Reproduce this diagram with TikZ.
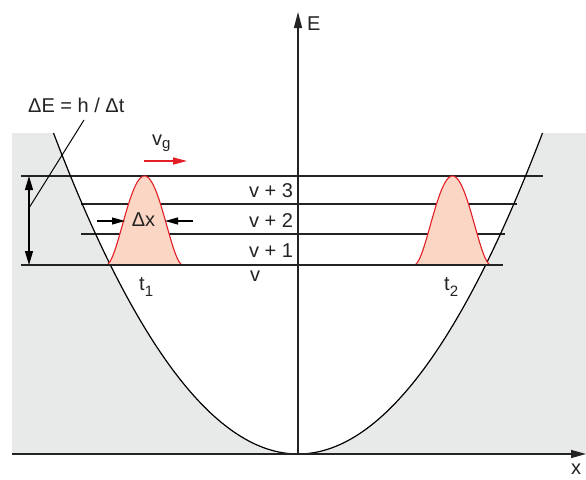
\documentclass[tikz,border=0pt]{standalone}
\usepackage{fontspec}
\setmainfont{Liberation Sans}
\usetikzlibrary{arrows.meta}
\definecolor{bggray}{RGB}{232,233,233}
\definecolor{lin}{RGB}{35,35,35}
\definecolor{pk}{RGB}{252,214,196}
\definecolor{pkred}{RGB}{226,30,38}
\newcommand\mysub[2]{\raisebox{-#1}{\fontsize{15}{15}\selectfont #2}}
\begin{document}
\begin{tikzpicture}[x=1pt,y=-1pt,
  lbl/.style={font=\fontsize{20}{24}\selectfont, inner sep=0pt, text=lin},
  level/.style={draw=lin, line width=1.3pt},
  axis/.style={draw=lin, line width=1.3pt},
  curve/.style={draw=black, line width=1.2pt},
  packet/.style={fill=pk, draw=pkred, line width=1.1pt},
  blk/.style={-{Triangle[length=13pt,width=7pt]}, draw=black, line width=1.1pt},
  dbl/.style={{Triangle[length=14pt,width=8pt]}-{Triangle[length=14pt,width=8pt]}, draw=black, line width=1.1pt},
  redarr/.style={-{Triangle[length=14pt,width=7pt]}, draw=pkred, fill=pkred, line width=1.4pt}]
\useasboundingbox (0,0) rectangle (586,479);
% gray walls outside the parabola
\fill[bggray] (12,133) rectangle (586,454);
\fill[white] (53.5,133) .. controls (216.5,561) and (379.5,561) .. (542.5,133) -- cycle;
% coordinates
\coordinate (xo) at (12,454);
\coordinate (xe) at (586,454);
\coordinate (eo) at (298,454);
\coordinate (ee) at (298,12);
\coordinate (l3a) at (21,176);  \coordinate (l3b) at (543,176);
\coordinate (l2a) at (81,204);  \coordinate (l2b) at (517,204);
\coordinate (l1a) at (81,234);  \coordinate (l1b) at (505,234);
\coordinate (l0a) at (21,265);  \coordinate (l0b) at (503,265);
% energy levels
\draw[level] (l3a) -- (l3b);
\draw[level] (l2a) -- (l2b);
\draw[level] (l1a) -- (l1b);
\draw[level] (l0a) -- (l0b);
% parabola
\draw[curve] (53.5,133) .. controls (216.5,561) and (379.5,561) .. (542.5,133);
% wave packets
\filldraw[packet] plot[domain=-38.5:38.5, samples=80] ({144.5+\x},{265-89*(1-(\x/38.5)*(\x/38.5))*(1-(\x/38.5)*(\x/38.5))});
\filldraw[packet] plot[domain=-38.5:38.5, samples=80] ({452.5+\x},{265-89*(1-(\x/38.5)*(\x/38.5))*(1-(\x/38.5)*(\x/38.5))});
\draw[level] (l0a) -- (l0b);
% axes
\draw[axis, -{Triangle[length=15pt,width=8pt]}] (xo) -- (xe);
\draw[axis, -{Triangle[length=16pt,width=8pt]}] (eo) -- (ee);
% labels
\node[lbl, anchor=base west] (E) at (307,30) {E};
\node[lbl, anchor=base west] (X) at (571,474) {x};
\node[lbl, anchor=base west] (n3) at (249,197) {v + 3};
\node[lbl, anchor=base west] (n2) at (249,227) {v + 2};
\node[lbl, anchor=base west] (n1) at (249,257) {v + 1};
\node[lbl, anchor=base west] (n0) at (250,281) {v};
\node[lbl, anchor=base west] (t1) at (139,290) {t\mysub{6pt}{1}};
\node[lbl, anchor=base west] (t2) at (444,290) {t\mysub{6pt}{2}};
\node[lbl, anchor=base west] (vg) at (152,145) {v\mysub{3pt}{g}};
\node[lbl, anchor=base] (dx) at (143.5,226) {Δx};
\node[lbl, anchor=base west] (dE) at (28,112) {ΔE = h / Δt};
% Δx arrows
\coordinate (dxl0) at (97,221);  \coordinate (dxl1) at (125,221);
\coordinate (dxr0) at (193,221); \coordinate (dxr1) at (165,221);
\draw[blk] (dxl0) -- (dxl1);
\draw[blk] (dxr0) -- (dxr1);
% ΔE arrow and leader
\coordinate (de0) at (29,176); \coordinate (de1) at (29,265);
\draw[dbl] (de0) -- (de1);
\coordinate (ld0) at (84,120); \coordinate (ld1) at (29,208);
\draw[black, line width=1pt] (ld0) -- (ld1);
% group velocity arrow
\coordinate (vg0) at (144,161); \coordinate (vg1) at (187,161);
\draw[redarr] (vg0) -- (vg1);
\end{tikzpicture}
\end{document}
